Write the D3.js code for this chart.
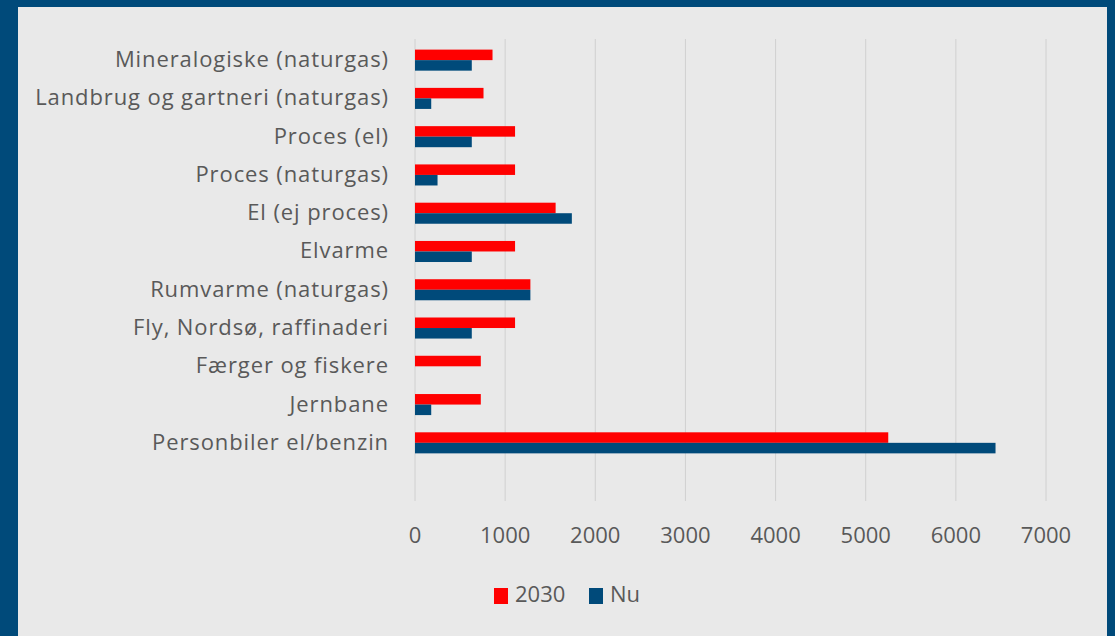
<!DOCTYPE html>
<html>
<head>
<meta charset="utf-8">
<script src="https://cdn.jsdelivr.net/npm/d3@7"></script>
<style>
  html, body { margin: 0; padding: 0; background: #004a7a; }
  svg { display: block; }
  text { font-family: "Open Sans", "DejaVu Sans", sans-serif; fill: #595959; }
</style>
</head>
<body>
<div id="chart"></div>
<script>
  // Kategorier (oppefra og ned)
  const categories = [
    'Mineralogiske (naturgas)',
    'Landbrug og gartneri (naturgas)',
    'Proces (el)',
    'Proces (naturgas)',
    'El (ej proces)',
    'Elvarme',
    'Rumvarme (naturgas)',
    'Fly, Nordsø, raffinaderi',
    'Færger og fiskere',
    'Jernbane',
    'Personbiler el/benzin'
  ];

  // Serier
  const values2030 = [860, 760, 1110, 1110, 1560, 1110, 1280, 1110, 730, 730, 5250];
  const valuesNu   = [630, 180, 630, 250, 1740, 630, 1280, 630, 0, 180, 6440];

  const xTicks = [0, 1000, 2000, 3000, 4000, 5000, 6000, 7000];

  const seriesNames = ['2030', 'Nu'];
  const seriesColors = ['#ff0000', '#004a7a'];

  const W = 1115, H = 636;

  const svg = d3.select('#chart').append('svg')
    .attr('width', W)
    .attr('height', H);

  // Lys baggrund for diagrammet
  svg.append('rect')
    .attr('x', 18).attr('y', 7)
    .attr('width', 1107 - 18).attr('height', H - 7)
    .attr('fill', '#e9e9e9');

  const x = d3.scaleLinear().domain([0, 7000]).range([415, 1046]);

  const plotTop = 39, plotBottom = 501;
  const y = d3.scaleBand()
    .domain(categories)
    .range([41, 41 + categories.length * 38.27])
    .paddingInner(0.45)
    .paddingOuter(0.225);

  const ySub = d3.scaleBand().domain(seriesNames).range([0, y.bandwidth()]);

  // Gitterlinjer
  svg.append('g').selectAll('line')
    .data(xTicks)
    .join('line')
    .attr('x1', d => x(d)).attr('x2', d => x(d))
    .attr('y1', plotTop).attr('y2', plotBottom)
    .attr('stroke', '#d0d0d0')
    .attr('stroke-width', 1);

  // Søjler
  const rows = categories.map((c, i) => ({ c, vals: [values2030[i], valuesNu[i]] }));
  const g = svg.append('g').selectAll('g')
    .data(rows)
    .join('g')
    .attr('transform', d => `translate(0, ${y(d.c)})`);

  g.selectAll('rect')
    .data(d => d.vals.map((v, k) => ({ v, s: seriesNames[k], k })))
    .join('rect')
    .attr('x', x(0))
    .attr('y', d => ySub(d.s))
    .attr('width', d => x(d.v) - x(0))
    .attr('height', ySub.bandwidth())
    .attr('fill', d => seriesColors[d.k]);

  // Kategori-etiketter
  svg.append('g').selectAll('text')
    .data(categories)
    .join('text')
    .attr('x', 389)
    .attr('y', d => y(d) + y.bandwidth() / 2 + 7)
    .attr('text-anchor', 'end')
    .attr('font-size', '22px')
    .attr('letter-spacing', '0.9px')
    .text(d => d);

  // X-akse etiketter
  svg.append('g').selectAll('text')
    .data(xTicks)
    .join('text')
    .attr('x', d => x(d))
    .attr('y', 543)
    .attr('text-anchor', 'middle')
    .attr('font-size', '22px')
    .text(d => d);

  // Forklaring
  const legendX = [494, 589];
  const legend = svg.append('g').selectAll('g')
    .data(seriesNames)
    .join('g')
    .attr('transform', (d, i) => `translate(${legendX[i]}, 588)`);

  legend.append('rect')
    .attr('width', 14).attr('height', 16)
    .attr('fill', (d, i) => seriesColors[i]);

  legend.append('text')
    .attr('x', 21).attr('y', 14)
    .attr('font-size', '22px')
    .text(d => d);
</script>
</body>
</html>
